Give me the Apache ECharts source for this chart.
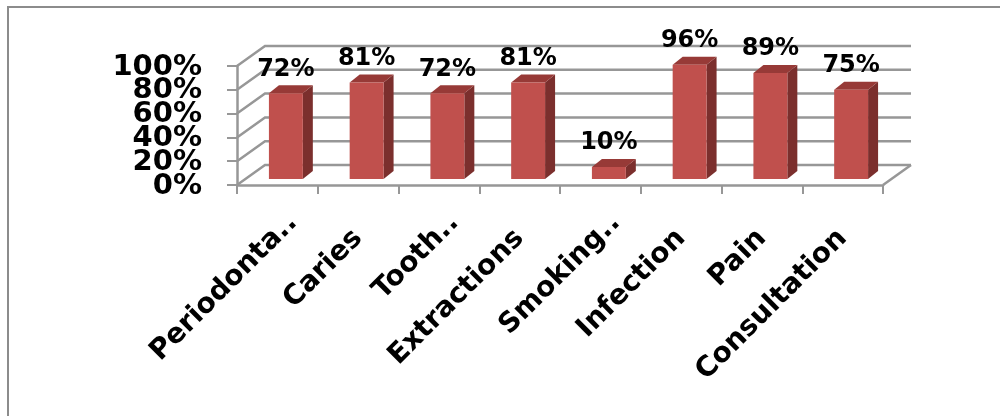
<!DOCTYPE html>
<html>
<head>
<meta charset="utf-8">
<script src="https://cdn.jsdelivr.net/npm/echarts@6/dist/echarts.min.js"></script>
<style>
  html, body { margin: 0; padding: 0; background: #fff; }
  #chart { width: 1000px; height: 416px; }
</style>
</head>
<body>
<div id="chart"></div>
<script>
// Reasons reported (share of respondents)
const categories = ['Periodonta..', 'Caries', 'Tooth..', 'Extractions', 'Smoking..', 'Infection', 'Pain', 'Consultation'];
const shares = [0.72, 0.81, 0.72, 0.81, 0.10, 0.96, 0.89, 0.75];
const gridLevels = [0, 0.2, 0.4, 0.6, 0.8, 1.0];

// Oblique projection used for the pseudo-3D look
const WALL_DX = 28, WALL_DY = -20;        // back wall offset from the front plane
const BAR_SHIFT_X = 8.5, BAR_SHIFT_Y = -6; // bars stand slightly behind the front plane
const BAR_DX = 10, BAR_DY = -8;           // depth of each bar
const TICK_LABEL_GAP = 35;                // value labels sit left of the front axis
const FONT = "'DejaVu Sans', Verdana, sans-serif";
const LINE = '#979797';
const pct = v => Math.round(v * 100) + '%';

// Back wall gridlines, left wall diagonals, floor's right edge and value labels.
// The value labels are packed tighter than their height, so they are drawn here
// rather than by the axis (which would drop overlapping ones).
function renderWall(params, api) {
  const cs = params.coordSys;
  const v = api.value(1);
  const y = api.coord([0, v])[1];
  const x0 = cs.x, x1 = cs.x + cs.width;
  const children = [{
    type: 'polyline',
    shape: { points: [[x0, y], [x0 + WALL_DX, y + WALL_DY], [x1 + WALL_DX, y + WALL_DY]] },
    style: { stroke: LINE, lineWidth: 2.5, fill: null }
  }, {
    type: 'text',
    x: x0 - TICK_LABEL_GAP, y: y + 1,
    style: { text: pct(v), align: 'right', verticalAlign: 'middle',
             font: 'bold 29px ' + FONT, fill: '#000' }
  }];
  if (v === 0) {
    children.push({
      type: 'line',
      shape: { x1: x1, y1: y, x2: x1 + WALL_DX, y2: y + WALL_DY },
      style: { stroke: LINE, lineWidth: 2.5 }
    });
  }
  return { type: 'group', children: children };
}

// Box-shaped bar: side, top, front face and value label
function renderBar(params, api) {
  const i = api.value(0), v = api.value(1);
  const top = api.coord([i, v]);
  const base = api.coord([i, 0]);
  const band = api.size([1, 0])[0];
  const w = band * 0.42;
  const xl = top[0] - w / 2 + BAR_SHIFT_X, xr = xl + w;
  const yb = base[1] + BAR_SHIFT_Y, yt = top[1] + BAR_SHIFT_Y;
  return {
    type: 'group',
    children: [
      { type: 'polygon',
        shape: { points: [[xr, yt], [xr + BAR_DX, yt + BAR_DY], [xr + BAR_DX, yb + BAR_DY], [xr, yb]] },
        style: { fill: '#7b2f2d' } },
      { type: 'polygon',
        shape: { points: [[xl, yt], [xl + BAR_DX, yt + BAR_DY], [xr + BAR_DX, yt + BAR_DY], [xr, yt]] },
        style: { fill: '#973a37' } },
      { type: 'rect',
        shape: { x: xl, y: yt, width: w, height: yb - yt },
        style: { fill: '#c0504d' } },
      { type: 'text',
        x: (xl + xr) / 2, y: yt + BAR_DY - 4,
        style: { text: pct(v), align: 'center', verticalAlign: 'bottom',
                 font: 'bold 24px ' + FONT, fill: '#000' } }
    ]
  };
}

// Shortened names ("..") run a little further out along the slant
const axisCategories = categories.map(name => name.endsWith('..')
  ? { value: name, textStyle: { padding: [0, -22, 0, 0] } }
  : name);

const chart = echarts.init(document.getElementById('chart'), null, { renderer: 'canvas' });
chart.setOption({
  animation: false,
  backgroundColor: '#fff',
  graphic: [{
    type: 'rect', silent: true,
    shape: { x: 8, y: 7, width: 1020, height: 440 },
    style: { stroke: '#8c8c8c', lineWidth: 2, fill: null }
  }],
  grid: { left: 237, right: 117, top: 66, bottom: 231, outerBoundsMode: 'none' },
  xAxis: {
    type: 'category',
    data: axisCategories,
    boundaryGap: true,
    axisLine: { show: true, lineStyle: { color: LINE, width: 2.5 } },
    axisTick: { show: true, length: 9, interval: 0, lineStyle: { color: LINE, width: 2 } },
    axisLabel: { interval: 0, rotate: 45, margin: 49, fontSize: 28, fontWeight: 'bold',
                 fontFamily: FONT, color: '#000', hideOverlap: false },
    splitLine: { show: false }
  },
  yAxis: {
    type: 'value', min: 0, max: 1, interval: 0.2,
    axisLine: { show: true, lineStyle: { color: LINE, width: 2.5 } },
    axisTick: { show: true, length: 10, lineStyle: { color: LINE, width: 2 } },
    axisLabel: { show: false },
    splitLine: { show: false }
  },
  series: [
    { type: 'custom', z: 1, silent: true, renderItem: renderWall,
      data: gridLevels.map(v => [0, v]) },
    { type: 'custom', z: 2, renderItem: renderBar,
      data: shares.map((v, i) => [i, v]) }
  ]
});
</script>
</body>
</html>
